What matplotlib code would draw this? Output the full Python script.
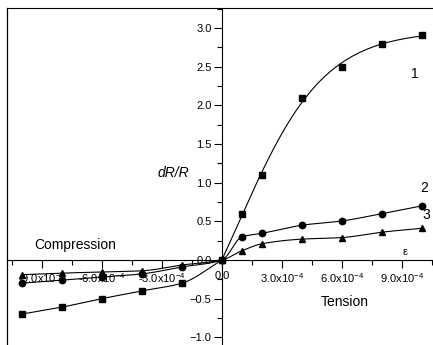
import numpy as np
import matplotlib
matplotlib.use('Agg')
import matplotlib.pyplot as plt
from matplotlib.ticker import MultipleLocator, FixedLocator

plt.rcParams['font.family'] = ['Liberation Sans', 'DejaVu Sans']
plt.rcParams['mathtext.fontset'] = 'custom'
plt.rcParams['mathtext.rm'] = 'Liberation Sans'
plt.rcParams['mathtext.it'] = 'Liberation Sans:italic'

# strain values (same for every sample)
strain = [-10e-4, -8e-4, -6e-4, -4e-4, -2e-4, 0.0, 1e-4, 2e-4, 4e-4, 6e-4, 8e-4, 10e-4]

# dR/R
s1 = [-0.70, -0.61, -0.50, -0.40, -0.30, 0.0, 0.60, 1.10, 2.10, 2.50, 2.80, 2.91]
s2 = [-0.30, -0.26, -0.22, -0.18, -0.09, 0.0, 0.30, 0.345, 0.45, 0.505, 0.60, 0.70]
s3 = [-0.19, -0.17, -0.155, -0.14, -0.065, 0.0, 0.12, 0.21, 0.27, 0.29, 0.36, 0.41]

xtick_vals = [-9e-4, -6e-4, -3e-4, 0.0, 3e-4, 6e-4, 9e-4]
xtick_labels = [r'-9.0x10$^{-4}$', r'-6.0x10$^{-4}$', r'-3.0x10$^{-4}$', '0.0',
                r'3.0x10$^{-4}$', r'6.0x10$^{-4}$', r'9.0x10$^{-4}$']


def pchip(x, y, xn):
    # monotone cubic through the points, only used to draw the smooth line
    x = np.asarray(x); y = np.asarray(y)
    h = np.diff(x)
    d = np.diff(y) / h
    m = np.zeros_like(y)
    m[0], m[-1] = d[0], d[-1]
    for k in range(1, len(x) - 1):
        if d[k - 1] * d[k] > 0:
            w1 = 2 * h[k] + h[k - 1]
            w2 = h[k] + 2 * h[k - 1]
            m[k] = (w1 + w2) / (w1 / d[k - 1] + w2 / d[k])
    i = np.clip(np.searchsorted(x, xn) - 1, 0, len(x) - 2)
    t = (xn - x[i]) / h[i]
    h00 = 2 * t**3 - 3 * t**2 + 1
    h10 = t**3 - 2 * t**2 + t
    h01 = -2 * t**3 + 3 * t**2
    h11 = t**3 - t**2
    return h00 * y[i] + h10 * h[i] * m[i] + h01 * y[i + 1] + h11 * h[i] * m[i + 1]


def boltzmann_fit(x, y, xn):
    # least squares sigmoid fit (like the fitted curve of the original)
    x = np.asarray(x); y = np.asarray(y)
    best = None
    for x0 in np.linspace(0.5e-4, 5e-4, 91):
        for dx in np.linspace(0.3e-4, 3e-4, 91):
            f = 1 / (1 + np.exp((x - x0) / dx))
            M = np.column_stack([np.ones_like(f), f])
            c, res, _, _ = np.linalg.lstsq(M, y, rcond=None)
            r = np.sum((M @ c - y)**2)
            if best is None or r < best[0]:
                best = (r, x0, dx, c)
    _, x0, dx, c = best
    return c[0] + c[1] / (1 + np.exp((xn - x0) / dx))


fig = plt.figure(figsize=(4.33, 3.45), dpi=100)
ax = fig.add_axes([7 / 433, 0, 426 / 433, 337 / 345])

xs = np.linspace(strain[0], strain[-1], 800)
for ys, mk in [(s2, 'o'), (s3, '^')]:
    ax.plot(xs, pchip(strain, ys, xs), color='k', lw=0.8)
    ax.plot(strain, ys, linestyle='none', marker=mk, ms=4.6, color='k')

# sample 1: compression part through the points, tension part fitted
xneg = np.linspace(strain[0], 0, 300)
ax.plot(xneg, pchip(strain[:6], s1[:6], xneg), color='k', lw=0.8)
xpos = np.linspace(0, strain[-1], 400)
ax.plot(xpos, boltzmann_fit(strain[5:], s1[5:], xpos), color='k', lw=0.8)
ax.plot(strain, s1, linestyle='none', marker='s', ms=4.6, color='k')

ax.set_xlim(-10.75e-4, 10.55e-4)
ax.set_ylim(-1.10, 3.26)

ax.spines['left'].set_position(('data', 0))
ax.spines['bottom'].set_position(('data', 0))
ax.spines['right'].set_visible(False)
for sp in ax.spines.values():
    sp.set_linewidth(0.8)
# left border of the frame
ax.plot([0, 0], [0, 1], transform=ax.transAxes, color='k', lw=0.9, clip_on=False)

ax.xaxis.set_major_locator(FixedLocator(xtick_vals))
ax.xaxis.set_minor_locator(MultipleLocator(1.5e-4))
ax.set_xticklabels(xtick_labels)
ax.yaxis.set_major_locator(MultipleLocator(0.5))
ax.yaxis.set_minor_locator(MultipleLocator(0.25))
ax.tick_params(which='major', direction='out', length=6, width=0.8, labelsize=8, pad=1.5)
ax.tick_params(which='minor', direction='out', length=3.5, width=0.8)
ax.tick_params(axis='x', pad=2)

ax.text(9.65e-4, 2.40, '1', fontsize=10, ha='center', va='center')
ax.text(10.1e-4, 0.93, '2', fontsize=10, ha='center', va='center')
ax.text(10.2e-4, 0.58, '3', fontsize=10, ha='center', va='center')
ax.text(9.15e-4, 0.10, 'ε', fontsize=8, ha='center', va='center')
ax.text(-2.45e-4, 1.13, 'dR/R', fontsize=10, style='italic', ha='center', va='center')
ax.text(-7.35e-4, 0.19, 'Compression', fontsize=10, ha='center', va='center')
ax.text(6.15e-4, -0.54, 'Tension', fontsize=10, ha='center', va='center')

fig.savefig('out.png', dpi=100)
